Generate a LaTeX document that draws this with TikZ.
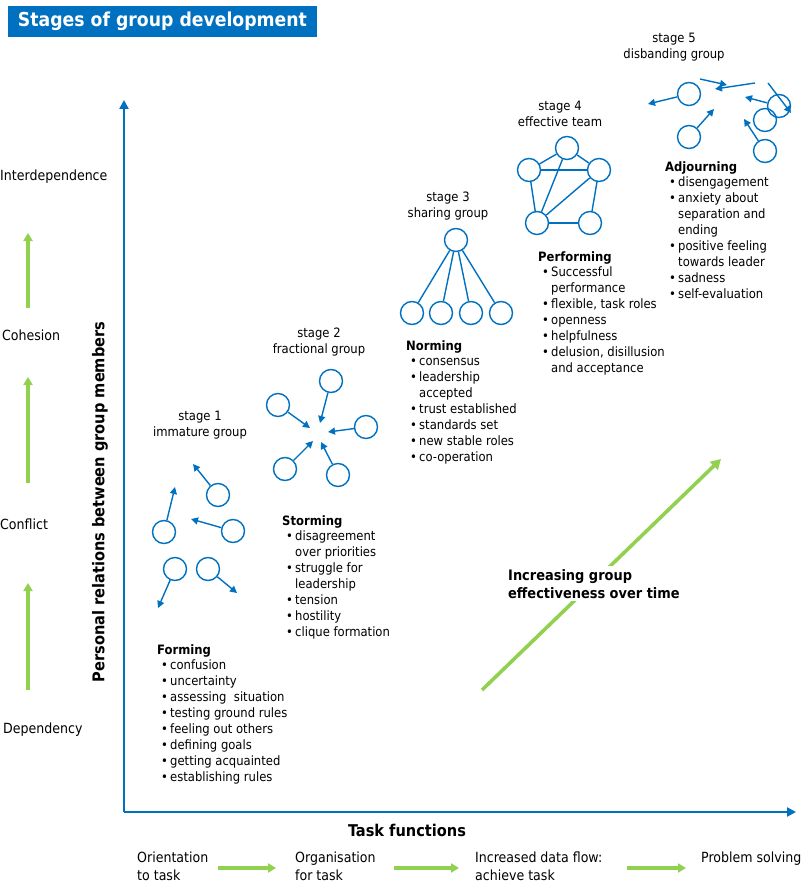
\documentclass[tikz,border=0pt]{standalone}
\usepackage{fontspec}
\setmainfont{DejaVu Sans Condensed}
\usetikzlibrary{arrows.meta}
\definecolor{cblue}{HTML}{0070C0}
\definecolor{cgreen}{HTML}{92D050}
\newcommand\itm[1]{\hspace*{4pt}\makebox[9pt][l]{•}#1}
\newcommand\cnt[1]{\hspace*{13pt}#1}
\begin{document}
\begin{tikzpicture}[x=1pt,y=-1pt,
 circ/.style={circle,draw=cblue,line width=1.4pt,minimum size=23pt,inner sep=0pt},
 arr/.style={draw=cblue,line width=1.4pt,-{Triangle[length=7pt,width=7pt]}},
 link/.style={draw=cblue,line width=1.4pt},
 axis/.style={draw=cblue,line width=2.6pt,-{Triangle[length=9pt,width=9pt]}},
 garr/.style={draw=cgreen,line width=3.2pt,-{Triangle[length=8pt,width=9pt]}},
 blk/.style={anchor=north west,align=left,inner sep=0pt,font=\fontsize{12.9}{15.9}\selectfont},
 stg/.style={align=center,inner sep=0pt,font=\fontsize{12.9}{16}\selectfont},
 lvl/.style={anchor=west,inner sep=0pt,font=\fontsize{14}{15}\selectfont},
 bot/.style={anchor=north west,align=left,inner sep=0pt,font=\fontsize{14}{17.5}\selectfont}]
\useasboundingbox (0,0) rectangle (804,885);
% title
\node[fill=cblue,text=white,font=\bfseries\fontsize{19.2}{22}\selectfont,minimum width=309pt,minimum height=31pt,inner sep=0pt] (title) at (162.5,21.5) {Stages of group development};
% axes
\coordinate (O) at (124,812);
\coordinate (ytop) at (124,100);
\coordinate (xend) at (796,812);
\draw[axis] (O) -- (ytop);
\draw[axis] (O) -- (xend);
\node[rotate=90,font=\bfseries\fontsize{16.2}{18}\selectfont,inner sep=0pt] (ylab) at (100,502) {Personal relations between group members};
\node[font=\bfseries\fontsize{16.2}{18}\selectfont,inner sep=0pt] (xlab) at (407,830) {Task functions};
% left levels
\node[lvl] (interdep) at (0,177) {Interdependence};
\node[lvl] (cohesion) at (2,335) {Cohesion};
\node[lvl] (conflict) at (0,524) {Conflict};
\node[lvl] (depend) at (3,730) {Dependency};
\coordinate (g1a) at (28,690); \coordinate (g1b) at (28,583);
\coordinate (g2a) at (28,483); \coordinate (g2b) at (28,377);
\coordinate (g3a) at (28,308); \coordinate (g3b) at (28,233);
\draw[garr] (g1a) -- (g1b);
\draw[garr] (g2a) -- (g2b);
\draw[garr] (g3a) -- (g3b);
% bottom row
\node[bot] (t1) at (137,852) {Orientation\\to task};
\node[bot] (t2) at (295,852) {Organisation\\for task};
\node[bot] (t3) at (475,852) {Increased data flow:\\achieve task};
\node[bot] (t4) at (701,852) {Problem solving};
\coordinate (b1a) at (218,868); \coordinate (b1b) at (276,868);
\coordinate (b2a) at (394,868); \coordinate (b2b) at (459,868);
\coordinate (b3a) at (627,868); \coordinate (b3b) at (686,868);
\draw[garr] (b1a) -- (b1b);
\draw[garr] (b2a) -- (b2b);
\draw[garr] (b3a) -- (b3b);
% diagonal arrow
\coordinate (da) at (482,690); \coordinate (db) at (721,459);
\draw[draw=cgreen,line width=3.6pt,-{Triangle[length=10pt,width=11pt]}] (da) -- (db);
\node[anchor=north west,align=left,fill=white,inner sep=3pt,font=\bfseries\fontsize{14.4}{18}\selectfont] (incr) at (505,566) {Increasing group\\effectiveness over time};
% stage 1
\node[stg] (s1) at (200,425) {stage 1\\immature group};
\node[circ] (c11) at (218,495) {};
\node[circ] (c12) at (164,532) {};
\node[circ] (c13) at (233,531) {};
\node[circ] (c14) at (175,569) {};
\node[circ] (c15) at (208,569) {};
\coordinate (e11) at (193,464);
\coordinate (e12) at (175,487);
\coordinate (e13) at (191,519);
\coordinate (e14) at (158,608);
\coordinate (e15) at (237,593);
\draw[arr] (c11) -- (e11);
\draw[arr] (c12) -- (e12);
\draw[arr] (c13) -- (e13);
\draw[arr] (c14) -- (e14);
\draw[arr] (c15) -- (e15);
% stage 2
\node[stg] (s2) at (319,342) {stage 2\\fractional group};
\node[circ] (c21) at (331,381) {};
\node[circ] (c22) at (278,405) {};
\node[circ] (c23) at (366,427) {};
\node[circ] (c24) at (285,469) {};
\node[circ] (c25) at (338,475) {};
\coordinate (e21) at (320,423);
\coordinate (e22) at (310,428);
\coordinate (e23) at (328,432);
\coordinate (e24) at (313,441);
\coordinate (e25) at (321,442);
\draw[arr] (c21) -- (e21);
\draw[arr] (c22) -- (e22);
\draw[arr] (c23) -- (e23);
\draw[arr] (c24) -- (e24);
\draw[arr] (c25) -- (e25);
% stage 3
\node[stg] (s3) at (448,206) {stage 3\\sharing group};
\node[circ] (c30) at (456,240) {};
\node[circ] (c31) at (412,313) {};
\node[circ] (c32) at (441,313) {};
\node[circ] (c33) at (471,313) {};
\node[circ] (c34) at (501,313) {};
\foreach \i in {1,2,3,4} \draw[link] (c30) -- (c3\i);
% stage 4
\node[stg] (s4) at (560,114) {stage 4\\effective team};
\node[circ] (c41) at (567,148) {};
\node[circ] (c42) at (529,170) {};
\node[circ] (c43) at (599,170) {};
\node[circ] (c44) at (537,223) {};
\node[circ] (c45) at (590,223) {};
\draw[link] (c41) -- (c42);
\draw[link] (c41) -- (c43);
\draw[link] (c42) -- (c43);
\draw[link] (c42) -- (c44);
\draw[link] (c43) -- (c45);
\draw[link] (c44) -- (c45);
\draw[link] (c41) -- (c44);
\draw[link] (c43) -- (c44);
% stage 5
\node[stg] (s5) at (674,47) {stage 5\\disbanding group};
\node[circ] (c51) at (689,94) {};
\node[circ] (c52) at (689,137) {};
\node[circ] (c53) at (779,106) {};
\node[circ] (c54) at (765,120) {};
\node[circ] (c55) at (765,151) {};
\coordinate (e51) at (648,104);
\coordinate (e52) at (714,109);
\coordinate (f1a) at (700,79); \coordinate (f1b) at (727,85);
\coordinate (f2a) at (755,83); \coordinate (f2b) at (715,89);
\coordinate (e53) at (745,97);
\coordinate (f3a) at (768,83); \coordinate (f3b) at (791,113);
\coordinate (e55) at (744,119);
\draw[arr] (c51) -- (e51);
\draw[arr] (c52) -- (e52);
\draw[arr] (f1a) -- (f1b);
\draw[arr] (f2a) -- (f2b);
\draw[arr] (c53) -- (e53);
\draw[arr] (f3a) -- (f3b);
\draw[arr] (c55) -- (e55);
% text blocks
\node[blk] (forming) at (157,644) {\textbf{Forming}\\\itm{confusion}\\\itm{uncertainty}\\\itm{assessing\ \ situation}\\\itm{testing ground rules}\\\itm{feeling out others}\\\itm{defining goals}\\\itm{getting acquainted}\\\itm{establishing rules}};
\node[blk] (storming) at (282,515) {\textbf{Storming}\\\itm{disagreement}\\\cnt{over priorities}\\\itm{struggle for}\\\cnt{leadership}\\\itm{tension}\\\itm{hostility}\\\itm{clique formation}};
\node[blk] (norming) at (406,340) {\textbf{Norming}\\\itm{consensus}\\\itm{leadership}\\\cnt{accepted}\\\itm{trust established}\\\itm{standards set}\\\itm{new stable roles}\\\itm{co-operation}};
\node[blk] (performing) at (538,251) {\textbf{Performing}\\\itm{Successful}\\\cnt{performance}\\\itm{flexible, task roles}\\\itm{openness}\\\itm{helpfulness}\\\itm{delusion, disillusion}\\\cnt{and acceptance}};
\node[blk] (adjourning) at (665,161) {\textbf{Adjourning}\\\itm{disengagement}\\\itm{anxiety about}\\\cnt{separation and}\\\cnt{ending}\\\itm{positive feeling}\\\cnt{towards leader}\\\itm{sadness}\\\itm{self-evaluation}};
\end{tikzpicture}
\end{document}
